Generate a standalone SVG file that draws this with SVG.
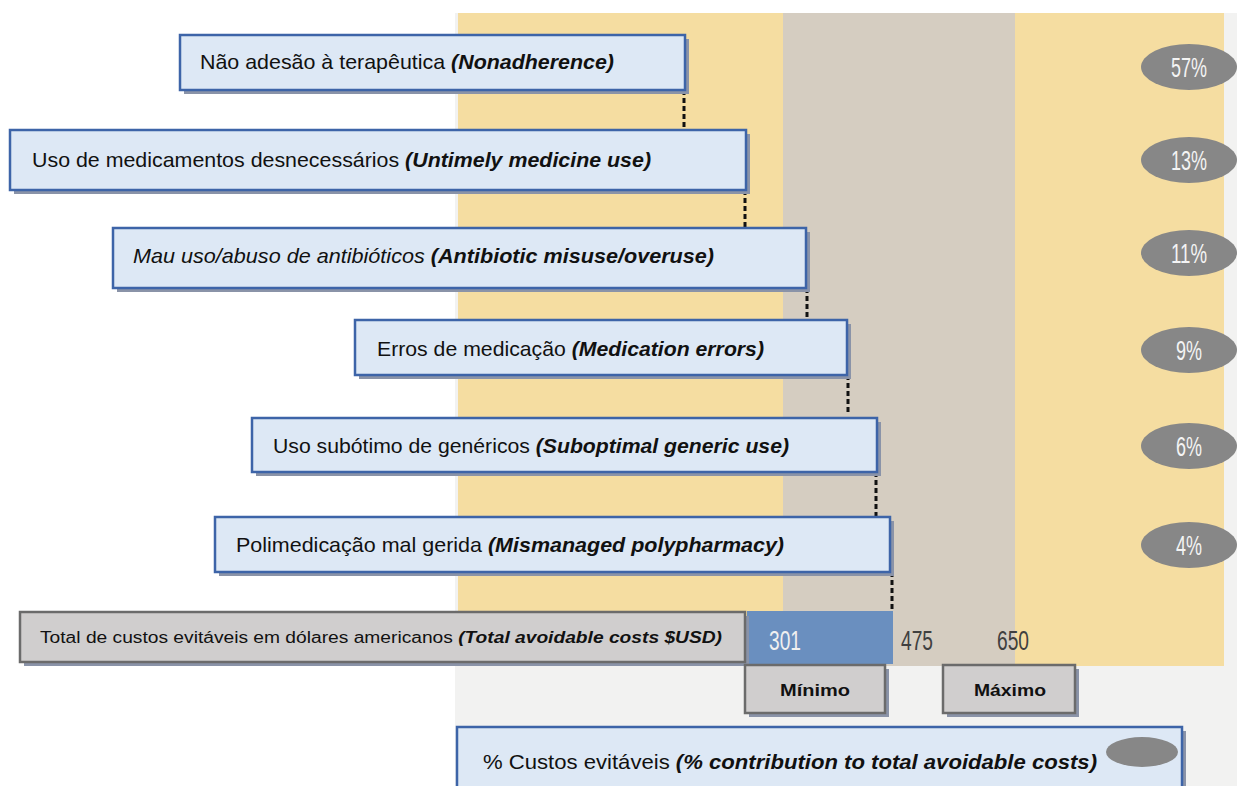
<svg xmlns="http://www.w3.org/2000/svg" width="1237" height="786" viewBox="0 0 1237 786">
<defs>
<style>
.bg{fill:#f2f2f1}
.yel{fill:#f5dda1}
.tau{fill:#d5cdc1}
.box{fill:#dde8f5;stroke:#3d64a8;stroke-width:2.5}
.shadow{fill:#8a93a8}
.gbox{fill:#d0cece;stroke:#6b6b6b;stroke-width:2.5}
.t{font-family:"Liberation Sans",Arial,sans-serif;font-size:21px;fill:#111}
.ts{font-family:"Liberation Sans",Arial,sans-serif;font-size:16px;fill:#111}
.bi{font-weight:bold;font-style:italic}
.it{font-style:italic}
.pct{fill:#878787}
.pt{font-family:"Liberation Sans",Arial,sans-serif;font-size:27px;fill:#f4f4f4;text-anchor:middle}
.num{font-family:"Liberation Sans",Arial,sans-serif;font-size:27px}
.conn{stroke:#111;stroke-width:3;stroke-dasharray:5 3;fill:none}
</style>
</defs>
<rect width="1237" height="786" fill="#ffffff"/>
<g id="background">
<rect class="bg" x="455" y="13" width="782" height="773"/>
<rect class="yel" x="458" y="13" width="325" height="653"/>
<rect class="tau" x="783" y="13" width="232" height="653"/>
<rect class="yel" x="1015" y="13" width="209" height="653"/>
<rect x="747" y="611" width="146" height="53" fill="#6a8fbf"/>
</g>
<g id="connectors">
<line class="conn" x1="684" y1="90" x2="684" y2="130"/>
<line class="conn" x1="745" y1="190" x2="745" y2="228"/>
<line class="conn" x1="807" y1="288" x2="807" y2="320"/>
<line class="conn" x1="848" y1="375" x2="848" y2="415"/>
<line class="conn" x1="876" y1="472" x2="876" y2="517"/>
<line class="conn" x1="892" y1="572" x2="892" y2="610"/>
</g>
<g id="n1">
<rect class="shadow" x="184" y="39" width="505" height="55"/>
<rect class="box" x="180" y="35" width="505" height="55"/>
<text class="t" x="200" y="69" textLength="414" lengthAdjust="spacingAndGlyphs">Não adesão à terapêutica <tspan class="bi">(Nonadherence)</tspan></text>
</g>
<g id="n2">
<rect class="shadow" x="14" y="134" width="736" height="60"/>
<rect class="box" x="10" y="130" width="736" height="60"/>
<text class="t" x="32" y="167" textLength="619" lengthAdjust="spacingAndGlyphs">Uso de medicamentos desnecessários  <tspan class="bi">(Untimely medicine use)</tspan></text>
</g>
<g id="n3">
<rect class="shadow" x="117" y="232" width="693" height="60"/>
<rect class="box" x="113" y="228" width="693" height="60"/>
<text class="t" x="133" y="263" textLength="581" lengthAdjust="spacingAndGlyphs"><tspan class="it">Mau uso/abuso de antibióticos </tspan><tspan class="bi">(Antibiotic misuse/overuse)</tspan></text>
</g>
<g id="n4">
<rect class="shadow" x="359" y="324" width="492" height="55"/>
<rect class="box" x="355" y="320" width="492" height="55"/>
<text class="t" x="377" y="356" textLength="387" lengthAdjust="spacingAndGlyphs">Erros de medicação <tspan class="bi">(Medication errors)</tspan></text>
</g>
<g id="n5">
<rect class="shadow" x="256" y="422" width="625" height="54"/>
<rect class="box" x="252" y="418" width="625" height="54"/>
<text class="t" x="273" y="453" textLength="516" lengthAdjust="spacingAndGlyphs">Uso subótimo de genéricos <tspan class="bi">(Suboptimal generic use)</tspan></text>
</g>
<g id="n6">
<rect class="shadow" x="219" y="521" width="675" height="55"/>
<rect class="box" x="215" y="517" width="675" height="55"/>
<text class="t" x="236" y="552" textLength="548" lengthAdjust="spacingAndGlyphs">Polimedicação mal gerida <tspan class="bi">(Mismanaged polypharmacy)</tspan></text>
</g>
<g id="total">
<rect class="shadow" x="24" y="616" width="725" height="50"/>
<rect class="gbox" x="20" y="612" width="725" height="50"/>
<text class="ts" x="40" y="643" textLength="682" lengthAdjust="spacingAndGlyphs">Total de custos evitáveis em dólares americanos  <tspan class="bi">(Total avoidable costs $USD)</tspan></text>
</g>
<g id="values">
<text class="num" x="769" y="650" fill="#f0f0f0" textLength="32" lengthAdjust="spacingAndGlyphs">301</text>
<text class="num" x="901" y="650" fill="#404040" textLength="32" lengthAdjust="spacingAndGlyphs">475</text>
<text class="num" x="997" y="650" fill="#404040" textLength="32" lengthAdjust="spacingAndGlyphs">650</text>
</g>
<g id="minimo">
<rect class="shadow" x="749" y="669" width="140" height="48"/>
<rect class="gbox" x="745" y="665" width="140" height="48"/>
<text class="ts" x="780" y="696" font-weight="bold" textLength="70" lengthAdjust="spacingAndGlyphs">Mínimo</text>
</g>
<g id="maximo">
<rect class="shadow" x="947" y="669" width="132" height="48"/>
<rect class="gbox" x="943" y="665" width="132" height="48"/>
<text class="ts" x="974" y="696" font-weight="bold" textLength="72" lengthAdjust="spacingAndGlyphs">Máximo</text>
</g>
<g id="legend">
<rect class="shadow" x="461" y="731" width="725" height="60"/>
<rect class="box" x="457" y="727" width="725" height="65"/>
<text class="t" x="483" y="769" textLength="614" lengthAdjust="spacingAndGlyphs">% Custos evitáveis <tspan class="bi">(% contribution to total avoidable costs)</tspan></text>
<ellipse class="pct" cx="1142" cy="752" rx="36" ry="15"/>
</g>
<g id="p57"><ellipse class="pct" cx="1189" cy="67" rx="48" ry="23"/><text class="pt" x="1189" y="77" textLength="36" lengthAdjust="spacingAndGlyphs">57%</text></g>
<g id="p13"><ellipse class="pct" cx="1189" cy="160" rx="48" ry="23"/><text class="pt" x="1189" y="170" textLength="36" lengthAdjust="spacingAndGlyphs">13%</text></g>
<g id="p11"><ellipse class="pct" cx="1189" cy="253" rx="48" ry="23"/><text class="pt" x="1189" y="263" textLength="36" lengthAdjust="spacingAndGlyphs">11%</text></g>
<g id="p9"><ellipse class="pct" cx="1189" cy="350" rx="48" ry="23"/><text class="pt" x="1189" y="360" textLength="26" lengthAdjust="spacingAndGlyphs">9%</text></g>
<g id="p6"><ellipse class="pct" cx="1189" cy="446" rx="48" ry="23"/><text class="pt" x="1189" y="456" textLength="26" lengthAdjust="spacingAndGlyphs">6%</text></g>
<g id="p4"><ellipse class="pct" cx="1189" cy="545" rx="48" ry="23"/><text class="pt" x="1189" y="555" textLength="26" lengthAdjust="spacingAndGlyphs">4%</text></g>
</svg>
